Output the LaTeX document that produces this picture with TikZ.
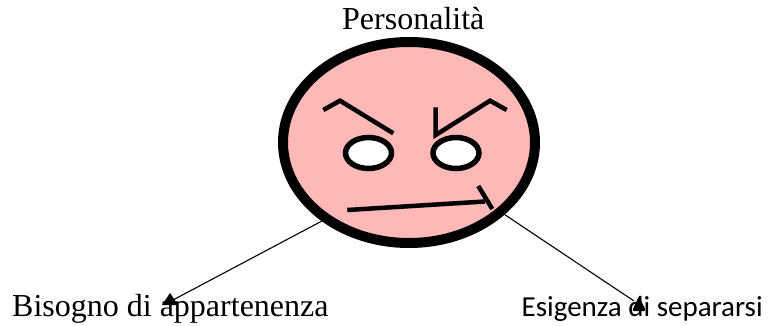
\documentclass[tikz,border=0pt]{standalone}
\usepackage{fontspec}
\setmainfont{Liberation Serif}
\newfontfamily\carlitofont{Carlito}
\usetikzlibrary{shapes.geometric}
\definecolor{facepink}{RGB}{255,184,184}
\tikzset{
	eyeball/.style={ellipse,draw=black,fill=white,line width=5.5pt,minimum width=46pt,minimum height=31pt,inner sep=0pt},
	feature/.style={line width=4.5pt},
	link/.style={line width=1.1pt},
	label/.style={anchor=base west,inner sep=0pt,font=\fontsize{32}{36}\selectfont}
}
\begin{document}
\begin{tikzpicture}[x=1pt,y=-1pt]
	\useasboundingbox (0,0) rectangle (768,326);
	\node[label] (title) at (342,30) {Personalità};
	\node[label] (need) at (12,316) {Bisogno di appartenenza};
	\node[label,font=\carlitofont\fontsize{29}{33}\selectfont] (wish) at (521.5,316) {Esigenza di separarsi};
	\node[ellipse,draw=black,fill=facepink,line width=10pt,minimum width=252pt,minimum height=201pt,inner sep=0pt] (face) at (409,142.5) {};
	\node[eyeball] (lefteye) at (368.5,153) {};
	\node[eyeball] (righteye) at (456,153) {};
	\draw[feature] (323.3,110) -- (340,100.7) -- (393.3,133.3);
	\draw[feature] (435.7,107.3) -- (435.7,135) -- (490,100.7) -- (506.7,110);
	\draw[feature] (347.3,210) -- (485,201.5);
	\draw[feature] (478.3,186) -- (492.3,209);
	\coordinate (needtip) at (173,300);
	\coordinate (wishtip) at (634,301);
	\draw[link] (face.222) -- (needtip);
	\draw[link] (face.-37) -- (wishtip);
	\fill (needtip) ++(-3,-7) -- ++(8,12) -- ++(-16,0) -- cycle;
	\fill[rounded corners=2pt] (wishtip) ++(5,-5) -- ++(7,15) -- ++(-14,0) -- cycle;
\end{tikzpicture}
\end{document}
